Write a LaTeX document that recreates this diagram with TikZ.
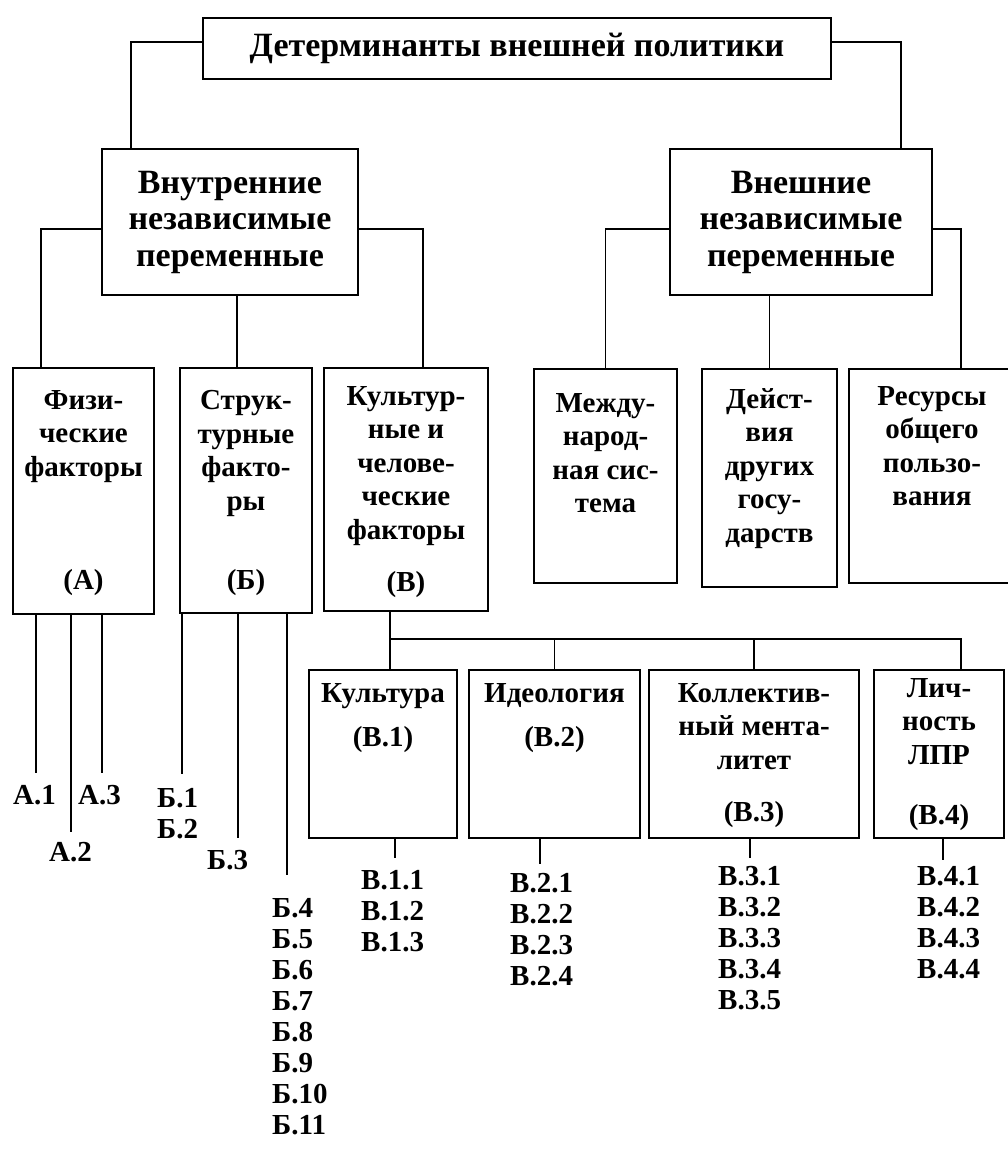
\documentclass[tikz,border=0pt]{standalone}
\usepackage{fontspec}
\setmainfont{Liberation Serif}
\usetikzlibrary{positioning}

\begin{document}
\begin{tikzpicture}[
    x=1pt, y=-1pt,
    box/.style={draw, line width=1.7pt, inner sep=0pt},
    link/.style={line width=1.5pt},
    head/.style={align=center, inner sep=0pt, font=\bfseries\fontsize{34}{36.5}\selectfont},
    txt/.style={align=center, inner sep=0pt, font=\bfseries\fontsize{29}{33.5}\selectfont},
    leaf/.style={align=left, anchor=north west, inner sep=0pt, font=\bfseries\fontsize{29}{31}\selectfont}
]
\useasboundingbox (0,0) rectangle (1007,1158);

% top and first level
\node[box, head, minimum width=628pt, minimum height=61pt] (top) at (517,48.5) {Детерминанты внешней политики};
\node[box, head, minimum width=256pt, minimum height=146pt] (inner) at (230,222) {Внутренние\\независимые\\переменные};
\node[box, head, minimum width=262pt, minimum height=146pt] (outer) at (801,222) {Внешние\\независимые\\переменные};
\draw[link] ([yshift=6.5pt]top.west) -| ([xshift=30pt]inner.north west);
\draw[link] ([yshift=6.5pt]top.east) -| ([xshift=-32pt]outer.north east);

% second level
\node[box, minimum width=141pt, minimum height=246pt] (fiz) at (83.5,491) {};
\node[txt, below=23pt of fiz.north] {Физи-\\ческие\\факторы};
\node[txt, above=19pt of fiz.south] {(А)};
\node[box, minimum width=132pt, minimum height=245pt] (str) at (246,490.5) {};
\node[txt, below=23pt of str.north] {Струк-\\турные\\факто-\\ры};
\node[txt, above=18pt of str.south] {(Б)};
\node[box, minimum width=164pt, minimum height=243pt] (cult) at (406,489.5) {};
\node[txt, below=19pt of cult.north] {Культур-\\ные и\\челове-\\ческие\\факторы};
\node[txt, above=14pt of cult.south] {(В)};
\node[box, minimum width=143pt, minimum height=214pt] (mezh) at (605.5,476) {};
\node[txt, below=25pt of mezh.north] {Между-\\народ-\\ная сис-\\тема};
\node[box, minimum width=135pt, minimum height=218pt] (deis) at (769.5,478) {};
\node[txt, below=20pt of deis.north] {Дейст-\\вия\\других\\госу-\\дарств};
\node[box, minimum width=166pt, minimum height=214pt] (res) at (932,476) {};
\node[txt, below=18pt of res.north] {Ресурсы\\общего\\пользо-\\вания};
\draw[link] ([yshift=-7pt]inner.west) -| ([xshift=29pt]fiz.north west);
\draw[link] ([xshift=-9pt]str.north |- inner.south) -- ([xshift=-9pt]str.north);
\draw[link] ([yshift=-7pt]inner.east) -| ([xshift=17pt]cult.north);
\draw[link] ([yshift=-7pt]outer.west) -| (mezh.north);
\draw[link] (outer.south -| deis.north) -- (deis.north);
\draw[link] ([yshift=-7pt]outer.east) -| ([xshift=29pt]res.north);

% third level
\node[box, minimum width=148pt, minimum height=168pt] (kult) at (383,754) {};
\node[txt, below=14pt of kult.north] {Культура\\[11pt](В.1)};
\node[box, minimum width=171pt, minimum height=168pt] (ideo) at (554.5,754) {};
\node[txt, below=14pt of ideo.north] {Идеология\\[11pt](В.2)};
\node[box, minimum width=210pt, minimum height=168pt] (koll) at (754,754) {};
\node[txt, below=14pt of koll.north] {Коллектив-\\ный мента-\\литет};
\node[txt, above=11pt of koll.south] {(В.3)};
\node[box, minimum width=130pt, minimum height=168pt] (lich) at (939,754) {};
\node[txt, below=9pt of lich.north] {Лич-\\ность\\ЛПР};
\node[txt, above=8pt of lich.south] {(В.4)};
\coordinate (bus) at ([xshift=-16pt, yshift=-27pt]cult.south);
\draw[link] ([xshift=-16pt]cult.south) -- (bus |- kult.north);
\draw[link] (bus) -| ([xshift=22pt]lich.north);
\draw[link] (bus -| ideo.north) -- (ideo.north);
\draw[link] (bus -| koll.north) -- (koll.north);

% leaves
\node[leaf] (a1) at (13,785) {А.1};
\node[leaf] (a3) at (78,785) {А.3};
\node[leaf] (a2) at (49,842) {А.2};
\node[leaf] (b12) at (157,788) {Б.1\\Б.2};
\node[leaf] (b3) at (207,850) {Б.3};
\node[leaf] (b4) at (272,898) {Б.4\\Б.5\\Б.6\\Б.7\\Б.8\\Б.9\\Б.10\\Б.11};
\node[leaf] (v1) at (361,870) {В.1.1\\В.1.2\\В.1.3};
\node[leaf] (v2) at (510,873) {В.2.1\\В.2.2\\В.2.3\\В.2.4};
\node[leaf] (v3) at (718,866) {В.3.1\\В.3.2\\В.3.3\\В.3.4\\В.3.5};
\node[leaf] (v4) at (917,866) {В.4.1\\В.4.2\\В.4.3\\В.4.4};
\coordinate (lead-a1) at (36,773);
\coordinate (lead-a2) at (71,832);
\coordinate (lead-a3) at (102,773);
\coordinate (lead-b12) at (182,774);
\coordinate (lead-b3) at (238,838);
\coordinate (lead-b4) at (287,875);
\coordinate (lead-v1) at (395,858);
\coordinate (lead-v2) at (540,864);
\coordinate (lead-v3) at (750,858);
\coordinate (lead-v4) at (943,860);
\draw[link] (fiz.south -| lead-a1) -- (lead-a1);
\draw[link] (fiz.south -| lead-a2) -- (lead-a2);
\draw[link] (fiz.south -| lead-a3) -- (lead-a3);
\draw[link] (str.south -| lead-b12) -- (lead-b12);
\draw[link] (str.south -| lead-b3) -- (lead-b3);
\draw[link] (str.south -| lead-b4) -- (lead-b4);
\draw[link] (kult.south -| lead-v1) -- (lead-v1);
\draw[link] (ideo.south -| lead-v2) -- (lead-v2);
\draw[link] (koll.south -| lead-v3) -- (lead-v3);
\draw[link] (lich.south -| lead-v4) -- (lead-v4);
\end{tikzpicture}
\end{document}
